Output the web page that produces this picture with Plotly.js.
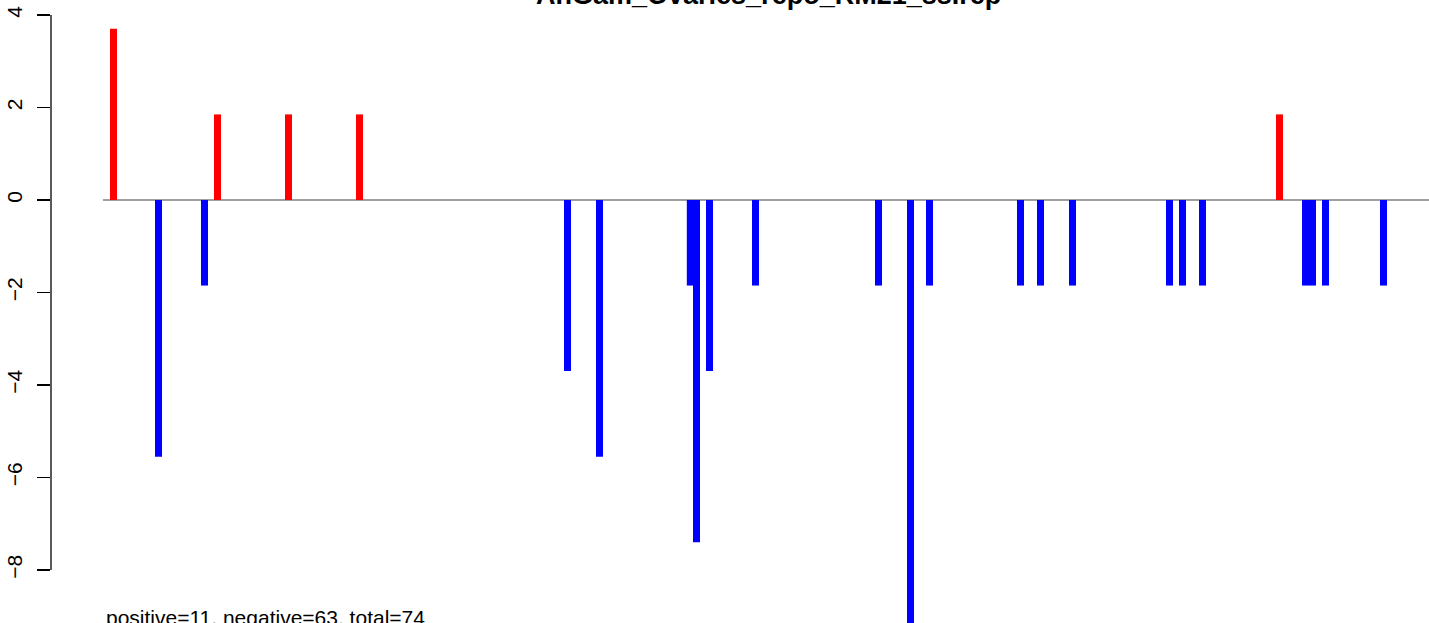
<!DOCTYPE html>
<html>
<head>
<meta charset="utf-8">
<script src="https://cdn.plot.ly/plotly-3.0.1.min.js"></script>
<style>html,body{margin:0;padding:0;background:#fff;}#chart{width:1429px;height:623px;}</style>
</head>
<body>
<div id="chart"></div>
<script>
// Bar positions (along the x axis) and values
const positions = [113.5, 158.5, 204.5, 217.5, 288.5, 359.5,
  567.5, 599.5, 690.3, 696.5, 709.5, 755.5,
  878.5, 910.5, 929.5, 1020.5, 1040.5, 1072.5,
  1169.5, 1182.5, 1202.5, 1279.5, 1305.5, 1312.5, 1325.5, 1383.5];
const values = [3.70, -5.55, -1.85, 1.85, 1.85, 1.85,
  -3.70, -5.55, -1.85, -7.40, -3.70, -1.85,
  -1.85, -9.25, -1.85, -1.85, -1.85, -1.85,
  -1.85, -1.85, -1.85, 1.85, -1.85, -1.85, -1.85, -1.85];
const yTicks = [-8, -6, -4, -2, 0, 2, 4];
const titleText = "AnGam_Ovaries_repo_RM21_ss.rep";
const footText = "positive=11, negative=63, total=74";

const colors = values.map(v => v > 0 ? "#FF0000" : "#0000FF");

const trace = {
  type: "bar",
  x: positions,
  y: values,
  width: positions.map(() => 7),
  marker: {color: colors, line: {width: 0}},
  hoverinfo: "x+y"
};

const FONT = "Liberation Sans, Arial, Helvetica, sans-serif";

const layout = {
  width: 1429, height: 623,
  margin: {l: 51, r: 0, t: 0, b: 0, pad: 0},
  paper_bgcolor: "#fff", plot_bgcolor: "#fff",
  showlegend: false,
  font: {family: FONT, color: "#000"},
  xaxis: {range: [51, 1429], visible: false, fixedrange: true},
  yaxis: {
    range: [-9.146, 4.324],
    tickvals: yTicks,
    ticktext: yTicks.map(String).map(s => s.replace("-", "\u2212")),
    ticks: "outside", ticklen: 13, tickwidth: 1.3, tickcolor: "#000",
    tickangle: -90,
    ticklabelstandoff: 7,
    tickfont: {size: 21, family: FONT, color: "#000"},
    showline: false, showgrid: false, zeroline: false
  },
  shapes: [
    {type: "line", xref: "paper", x0: 0, x1: 0, yref: "y", y0: -8, y1: 4,
     line: {color: "#000", width: 1.3}},
    {type: "line", xref: "x", x0: 103, x1: 1429, yref: "y", y0: 0, y1: 0,
     line: {color: "#808080", width: 1.5}, layer: "below"}
  ],
  annotations: [
    {text: "<b>" + titleText + "</b>", xref: "x", x: 768, yref: "paper", y: 1,
     xanchor: "center", yanchor: "middle", yshift: 5, showarrow: false,
     font: {size: 27, family: FONT, color: "#000"}},
    {text: footText, xref: "x", x: 104, yref: "y", y: -9.03,
     xanchor: "left", yanchor: "middle", showarrow: false,
     font: {size: 21, family: FONT, color: "#000"}}
  ]
};

Plotly.newPlot("chart", [trace], layout, {displayModeBar: false, staticPlot: true});
</script>
</body>
</html>
